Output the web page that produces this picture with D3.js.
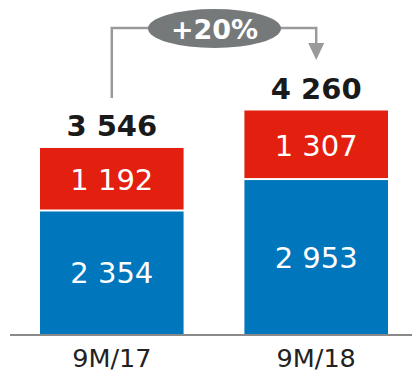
<!DOCTYPE html>
<html><head><meta charset="utf-8">
<script src="https://cdn.jsdelivr.net/npm/d3@7"></script>
<style>html,body{margin:0;padding:0;background:#fff;}svg{display:block;}</style>
</head><body>
<svg id="c" width="412" height="373"></svg>
<script>
const categories = ["9M/17", "9M/18"];
const blueValues = [2354, 2953];
const redValues = [1192, 1307];
const totals = [3546, 4260];
const growthLabel = "+20%";

const fmt = v => d3.format(",")(v).replace(/,/g, " ");
const svg = d3.select("#c");
const font = "'DejaVu Sans', Verdana, sans-serif";
const baseY = 334;

const x = d3.scaleBand().domain(categories).range([40, 388]).paddingInner(0.2976).paddingOuter(0);
const y = d3.scaleLinear().domain([0, 4260]).range([baseY, 110.5]);

const stackData = categories.map((c, i) => ({cat: c, blue: blueValues[i], red: redValues[i]}));
const series = d3.stack().keys(["blue", "red"])(stackData);
const colors = {blue: "#0076BD", red: "#E3200F"};

series.forEach(s => {
  svg.append("g").selectAll("rect").data(s).join("rect")
    .attr("x", d => x(d.data.cat))
    .attr("width", x.bandwidth())
    .attr("y", d => y(d[1]) + (s.key === "blue" ? 1 : 0))
    .attr("height", d => y(d[0]) - y(d[1]) - 1)
    .attr("fill", colors[s.key]);
  svg.append("g").selectAll("text").data(s).join("text")
    .attr("x", d => x(d.data.cat) + x.bandwidth() / 2)
    .attr("y", d => (y(d[0]) + y(d[1])) / 2 + 11)
    .attr("text-anchor", "middle")
    .attr("font-family", font).attr("font-size", 29)
    .attr("fill", "#fff")
    .text(d => fmt(d[1] - d[0]));
});

// axis line
svg.append("line").attr("x1", 10).attr("x2", 412).attr("y1", baseY + 1).attr("y2", baseY + 1)
  .attr("stroke", "#8a8a8a").attr("stroke-width", 2);

// category labels
svg.append("g").selectAll("text").data(categories).join("text")
  .attr("x", d => x(d) + x.bandwidth() / 2)
  .attr("y", 367)
  .attr("text-anchor", "middle")
  .attr("font-family", font).attr("font-size", 25.5)
  .attr("fill", "#222")
  .text(d => d);

// totals
svg.append("g").selectAll("text").data(totals).join("text")
  .attr("x", (d, i) => x(categories[i]) + x.bandwidth() / 2)
  .attr("y", d => y(d) - 12)
  .attr("text-anchor", "middle")
  .attr("font-family", font).attr("font-size", 29).attr("font-weight", "bold")
  .attr("fill", "#1a1a1a")
  .text(d => fmt(d));

// growth annotation
const cx1 = x(categories[0]) + x.bandwidth() / 2;
const cx2 = x(categories[1]) + x.bandwidth() / 2;
const lineY = 28;
svg.append("path")
  .attr("d", `M${cx1},${y(totals[0]) - 50} V${lineY} H${cx2} V44`)
  .attr("fill", "none").attr("stroke", "#9a9a9a").attr("stroke-width", 2.5);
svg.append("path")
  .attr("d", `M${cx2 - 8},43 L${cx2 + 8},43 L${cx2},60 Z`)
  .attr("fill", "#9a9a9a");
svg.append("ellipse").attr("cx", 214.5).attr("cy", 28.5).attr("rx", 66.5).attr("ry", 19.5)
  .attr("fill", "#76797a");
svg.append("text").attr("x", 214.5).attr("y", 38.5)
  .attr("text-anchor", "middle")
  .attr("font-family", font).attr("font-size", 27).attr("font-weight", "bold")
  .attr("fill", "#fff").text(growthLabel);
</script>
</body></html>
